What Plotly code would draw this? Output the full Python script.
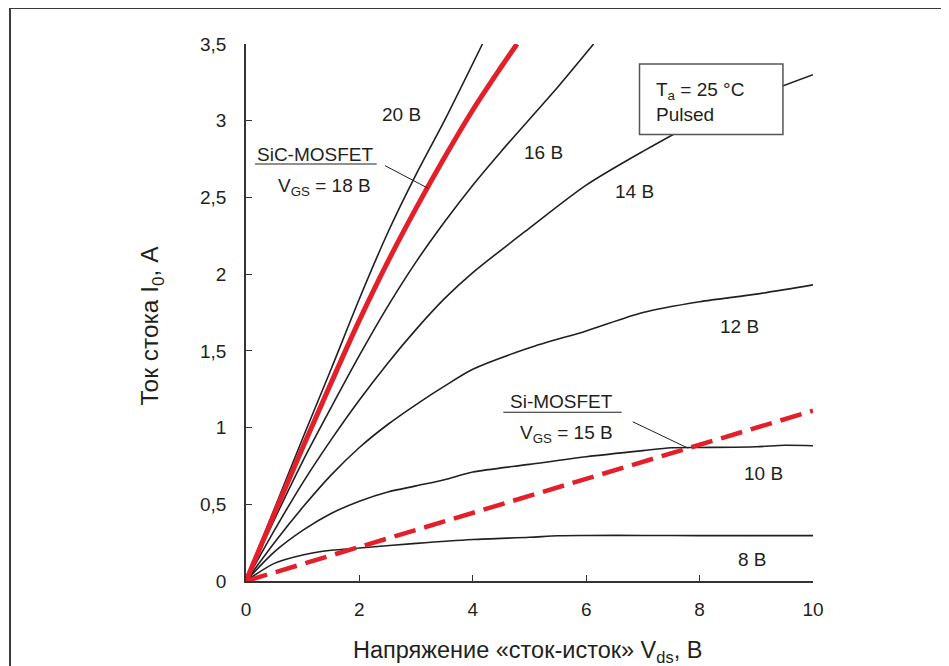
import plotly.graph_objects as go

# ---- data ----
v20 = [0, 0.5, 1, 1.5, 2, 2.5, 3, 3.5, 4.17]
i20 = [0, 0.47, 0.93, 1.38, 1.84, 2.27, 2.65, 3.0, 3.5]

v_sic = [0, 0.5, 1, 1.5, 2, 2.5, 3, 3.5, 4, 4.5, 4.78]
i_sic = [0, 0.44, 0.87, 1.29, 1.70, 2.08, 2.43, 2.76, 3.07, 3.35, 3.5]

v16 = [0, 0.5, 1, 1.5, 2, 2.5, 3, 3.5, 4, 4.5, 5, 5.5, 6.13]
i16 = [0, 0.4, 0.78, 1.13, 1.47, 1.79, 2.08, 2.34, 2.58, 2.8, 3.01, 3.22, 3.5]

v14 = [0, 0.5, 1, 1.5, 2, 2.5, 3, 3.5, 4, 5, 6, 7, 8, 9, 10]
i14 = [0, 0.33, 0.64, 0.92, 1.18, 1.42, 1.64, 1.84, 2.01, 2.3, 2.58, 2.8, 3.0, 3.16, 3.3]

v12 = [0, 0.5, 1, 1.5, 2, 2.5, 3, 3.5, 4, 5, 6, 7, 8, 9, 10]
i12 = [0, 0.25, 0.48, 0.69, 0.87, 1.02, 1.15, 1.27, 1.38, 1.52, 1.63, 1.75, 1.82, 1.87, 1.93]

v10 = [0, 0.5, 1, 1.5, 2, 2.5, 3, 3.5, 4, 5, 6, 7, 7.5, 8, 9, 9.5, 10]
i10 = [0, 0.19, 0.33, 0.44, 0.52, 0.58, 0.62, 0.66, 0.71, 0.76, 0.81, 0.85, 0.868, 0.87, 0.875, 0.885, 0.882]

v8 = [0, 0.5, 1, 1.5, 2, 3, 4, 5, 5.5, 6, 7, 8, 9, 10]
i8 = [0, 0.115, 0.17, 0.2, 0.215, 0.245, 0.27, 0.285, 0.295, 0.297, 0.297, 0.296, 0.296, 0.296]

v_si = [0, 10]
i_si = [0, 1.11]

x_ticks = [0, 2, 4, 6, 8, 10]
x_ticktext = ["0", "2", "4", "6", "8", "10"]
y_ticks = [0, 0.5, 1, 1.5, 2, 2.5, 3, 3.5]
y_ticktext = ["0", "0,5", "1", "1,5", "2", "2,5", "3", "3,5"]

curve_labels = ["20 В", "16 В", "14 В", "12 В", "10 В", "8 В"]
curve_label_x = [2.75, 5.24, 6.86, 8.71, 9.12, 8.94]
curve_label_y = [3.04, 2.79, 2.54, 1.66, 0.70, 0.141]

FONT = "Liberation Sans, Arial, Helvetica, sans-serif"
TXT = "#231f20"
RED = "#e3202a"
BLACK = "#231f20"
LBL = 19

fig = go.Figure()

for vx, iy in [(v20, i20), (v16, i16), (v14, i14), (v12, i12), (v10, i10), (v8, i8)]:
    fig.add_trace(go.Scatter(x=vx, y=iy, mode="lines",
                             line=dict(color=BLACK, width=1.6, shape="spline", smoothing=0.8),
                             hoverinfo="skip"))

fig.add_trace(go.Scatter(x=v_si, y=i_si, mode="lines",
                         line=dict(color=RED, width=4.5, dash="22px,9px"), hoverinfo="skip"))
fig.add_trace(go.Scatter(x=v_sic, y=i_sic, mode="lines",
                         line=dict(color=RED, width=5, shape="spline", smoothing=1.0),
                         hoverinfo="skip"))

annotations = []
for t, ax_, ay_ in zip(curve_labels, curve_label_x, curve_label_y):
    annotations.append(dict(x=ax_, y=ay_, text=t, showarrow=False,
                            font=dict(size=LBL, color=TXT, family=FONT)))

annotations += [
    dict(x=1.22, y=2.78, text="SiC-MOSFET", showarrow=False,
         font=dict(size=LBL, color=TXT, family=FONT)),
    dict(x=1.39, y=2.57, text="V<sub>GS</sub> = 18 В", showarrow=False,
         font=dict(size=LBL, color=TXT, family=FONT)),
    dict(x=5.56, y=1.17, text="Si-MOSFET", showarrow=False,
         font=dict(size=LBL, color=TXT, family=FONT)),
    dict(x=5.65, y=0.96, text="V<sub>GS</sub> = 15 В", showarrow=False,
         font=dict(size=LBL, color=TXT, family=FONT)),
    dict(x=7.2, y=3.12, text="T<sub>a</sub> = 25 °C<br>Pulsed", showarrow=False,
         xanchor="left", align="left",
         font=dict(size=LBL, color=TXT, family=FONT)),
    # axis titles
    dict(xref="paper", yref="paper", x=-0.1658, y=0.4758, textangle=-90,
         xanchor="center", yanchor="middle",
         text="Ток стока I<sub>0</sub>, А", showarrow=False,
         font=dict(size=24.5, color=TXT, family=FONT)),
    dict(xref="paper", yref="paper", x=0.4965, y=-0.1305,
         xanchor="center", yanchor="middle",
         text="Напряжение «сток-исток» V<sub>ds</sub>, В", showarrow=False,
         font=dict(size=23.5, color=TXT, family=FONT)),
]

shapes = [
    # outer frame
    dict(type="rect", xref="paper", yref="paper", x0=-0.4162, x1=1.4, y0=-0.4, y1=1.067,
         line=dict(color="#3a3a3a", width=2), layer="above"),
    # condition box
    dict(type="rect", x0=6.94, x1=9.47, y0=2.91, y1=3.37, fillcolor="white",
         line=dict(color="#555555", width=1.5), layer="above"),
    # underlines
    dict(type="line", x0=0.159, x1=2.305, y0=2.718, y1=2.718,
         line=dict(color=BLACK, width=1.2)),
    dict(type="line", x0=4.538, x1=6.626, y0=1.10, y1=1.10,
         line=dict(color=BLACK, width=1.2)),
    # leaders
    dict(type="line", x0=2.452, x1=3.21, y0=2.707, y1=2.560,
         line=dict(color=BLACK, width=1)),
    dict(type="line", x0=6.82, x1=7.80, y0=1.038, y1=0.865,
         line=dict(color=BLACK, width=1)),
]

fig.update_layout(
    width=949, height=666,
    margin=dict(l=238, r=144, t=36, b=93),
    paper_bgcolor="white", plot_bgcolor="white",
    showlegend=False,
    font=dict(family=FONT, color=TXT),
    annotations=annotations,
    shapes=shapes,
)
fig.update_xaxes(range=[0, 10], tickvals=x_ticks, ticktext=x_ticktext,
                 showgrid=False, zeroline=False, showline=True, linecolor="#333333",
                 linewidth=1.5, ticks="inside", ticklen=6, tickwidth=1.2, tickcolor="#333333",
                 ticklabelstandoff=10,
                 tickfont=dict(size=LBL, color=TXT, family=FONT))
fig.update_yaxes(range=[0, 3.5], tickvals=y_ticks, ticktext=y_ticktext,
                 showgrid=False, zeroline=False, showline=True, linecolor="#333333",
                 linewidth=1.5, ticks="inside", ticklen=6, tickwidth=1.2, tickcolor="#333333",
                 ticklabelstandoff=14,
                 tickfont=dict(size=LBL, color=TXT, family=FONT))

fig.write_html("out.html")
